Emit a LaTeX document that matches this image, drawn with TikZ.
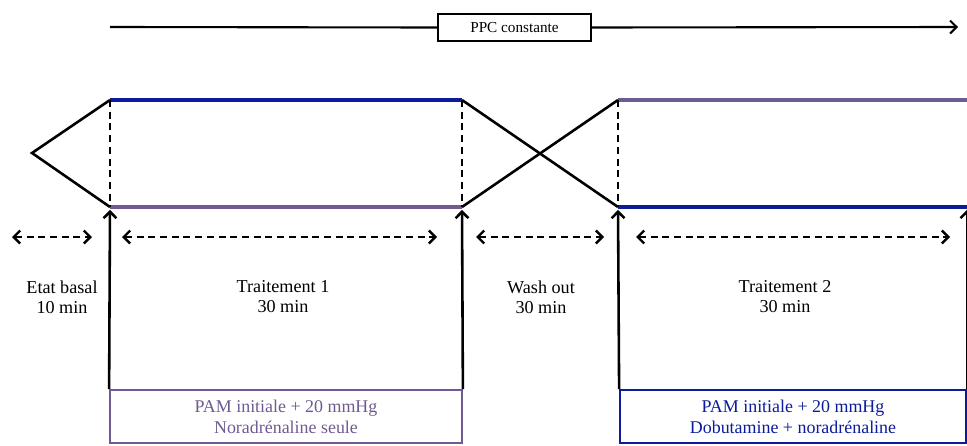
\documentclass[tikz,border=0pt]{standalone}
\usepackage{fontspec}
\setmainfont{Liberation Serif}
\usetikzlibrary{arrows.meta}
\definecolor{pvmauve}{HTML}{6F5B8F}
\definecolor{pvbleu}{HTML}{0B1B9B}

\begin{document}
\begin{tikzpicture}[x=0.03cm,y=-0.03cm,>={Straight Barb[length=5.5pt,width=11pt]},
 trait/.style={line width=2.2pt},
 couleur/.style={line width=3pt},
 repere/.style={line width=2pt,dash pattern=on 6pt off 4pt},
 duree/.style={line width=2pt,dash pattern=on 6pt off 4pt,<->},
 phase/.style={align=center,font=\fontsize{15.5}{17}\selectfont},
 cadre/.style={draw,line width=1.5pt,minimum height=1.59cm,align=center,font=\fontsize{15.3}{17.8}\selectfont}]
\useasboundingbox (0,0) rectangle (967,446);
\clip (0,0) rectangle (967,446);
\node[draw,line width=1.5pt,minimum width=4.59cm,minimum height=0.81cm,font=\fontsize{13}{15}\selectfont](ppc) at (514.5,27.5){PPC constante};
\coordinate (debut) at (110,27);
\coordinate (fin) at (958,27);
\draw[line width=1.8pt] (debut) -- (ppc.west);
\draw[line width=1.8pt,->] (ppc.east) -- (fin);
\coordinate (pointe) at (32,153);
\coordinate (h1) at (110,100);
\coordinate (b1) at (110,207);
\coordinate (h2) at (462,100);
\coordinate (b2) at (462,207);
\coordinate (h3) at (618,100);
\coordinate (b3) at (618,207);
\coordinate (h4) at (969,100);
\coordinate (b4) at (969,207);
\draw[couleur,pvbleu] (h1) -- (h2);
\draw[couleur,pvmauve] (b1) -- (b2);
\draw[couleur,pvmauve] (h3) -- (h4);
\draw[couleur,pvbleu] (b3) -- (b4);
\draw[trait,line join=miter] (h1) -- (pointe) -- (b1);
\draw[trait] (h2) -- (b3);
\draw[trait] (b2) -- (h3);
\draw[repere] (h1) -- (b1);
\draw[repere] (h2) -- (b2);
\draw[repere] (h3) -- (b3);
\node[cadre,draw=pvmauve,text=pvmauve,minimum width=10.56cm](cadre1) at (286,416.5){PAM initiale + 20 mmHg\\Noradrénaline seule};
\node[cadre,draw=pvbleu,text=pvbleu,minimum width=10.38cm](cadre2) at (793,416.5){PAM initiale + 20 mmHg\\Dobutamine + noradrénaline};
\draw[trait,->,shorten >=2.5pt] (cadre1.north west) -- (b1);
\draw[trait,->,shorten >=2.5pt] (cadre1.north east) -- (b2);
\draw[trait,->,shorten >=2.5pt] (cadre2.north west) -- (b3);
\draw[trait,->,shorten >=2.5pt] (cadre2.north east) -- (cadre2.north east |- b4);
\coordinate (d1g) at (12,237);
\coordinate (d1d) at (92,237);
\coordinate (d2g) at (122,237);
\coordinate (d2d) at (437,237);
\coordinate (d3g) at (476,237);
\coordinate (d3d) at (604,237);
\coordinate (d4g) at (636,237);
\coordinate (d4d) at (950,237);
\draw[duree] (d1g) -- (d1d);
\draw[duree] (d2g) -- (d2d);
\draw[duree] (d3g) -- (d3d);
\draw[duree] (d4g) -- (d4d);
\node[phase](basal) at (62,297){Etat basal\\10 min};
\node[phase](trait1) at (283,297){Traitement 1\\30 min};
\node[phase](wash) at (541,297){Wash out\\30 min};
\node[phase](trait2) at (785,297){Traitement 2\\30 min};
\end{tikzpicture}
\end{document}
